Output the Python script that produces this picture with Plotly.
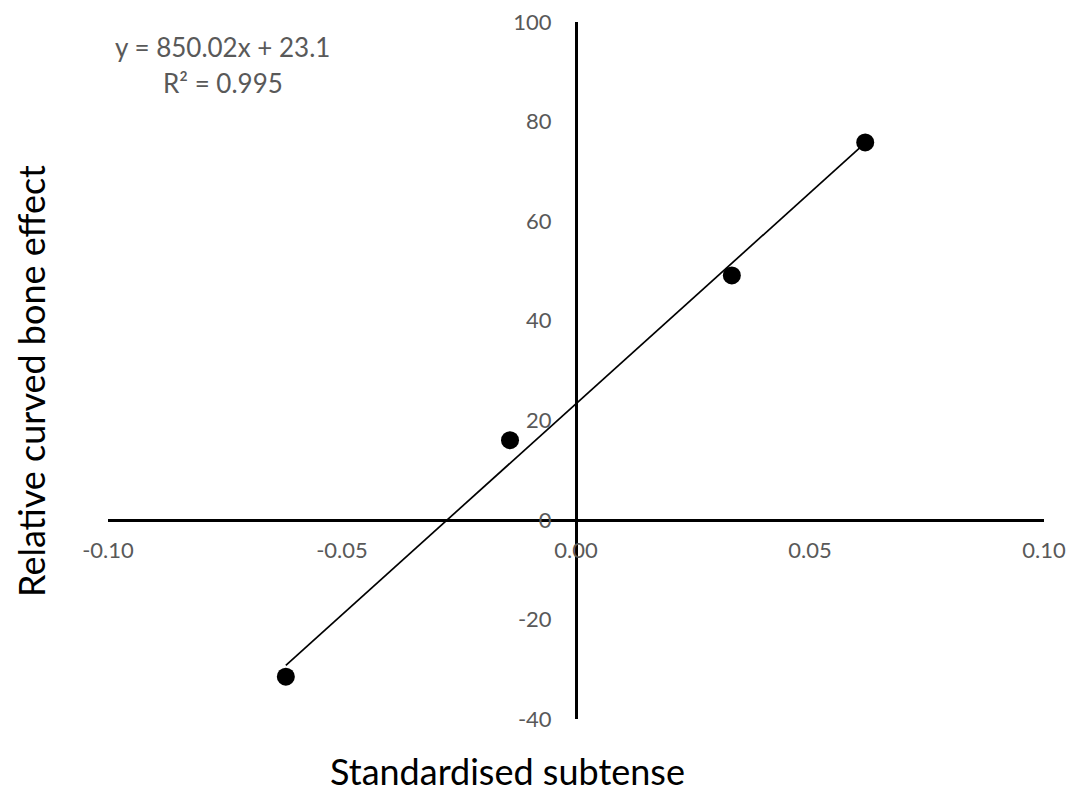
import numpy as np
import plotly.graph_objects as go

# Data
subtense = [-0.0620, -0.0141, 0.0333, 0.0618]
bone_effect = [-31.5, 16.0, 49.1, 75.8]

x_ticks = [-0.10, -0.05, 0.00, 0.05, 0.10]
x_tick_labels = ["-0.10", "-0.05", "0.00", "0.05", "0.10"]
y_ticks = [-40, -20, 0, 20, 40, 60, 80, 100]
y_tick_labels = ["-40", "-20", "0", "20", "40", "60", "80", "100"]

equation_text = "y = 850.02x + 23.1"
r2_text = "R² = 0.995"

FONT = "Lato"
TICK_COLOR = "#595959"

slope, intercept = np.polyfit(subtense, bone_effect, 1)
trend_x = [min(subtense), max(subtense)]
trend_y = [slope * v + intercept for v in trend_x]

fig = go.Figure()
fig.add_trace(go.Scatter(x=trend_x, y=trend_y, mode="lines",
                         line=dict(color="black", width=1.7), showlegend=False,
                         hoverinfo="skip"))
fig.add_trace(go.Scatter(x=subtense, y=bone_effect, mode="markers",
                         marker=dict(color="black", size=18), showlegend=False))

xr = [-0.10, 0.10]
yr = [-40, 100]

# page body has an 8px default margin; plot area spans x 108..1044, y 22..719 on the page
PL, PR, PT, PB = 108, 1044, 22, 719


def px(X):
    return (X - PL) / (PR - PL)


def py(Y):
    return (PB - Y) / (PB - PT)


fig.update_layout(
    width=1075, height=784,
    margin=dict(l=100, r=39, t=14, b=73, autoexpand=False),
    paper_bgcolor="white", plot_bgcolor="white",
    font=dict(family=FONT, color=TICK_COLOR, size=22),
    xaxis=dict(range=xr, tickvals=x_ticks, ticktext=x_tick_labels,
               showgrid=False, zeroline=False, showline=True,
               linecolor="black", linewidth=3, ticks="",
               anchor="free", position=(0 - yr[0]) / (yr[1] - yr[0]),
               ticklabeloverflow="allow", automargin=False,
               ticklabelstandoff=10, tickfont=dict(size=22, color=TICK_COLOR)),
    yaxis=dict(range=yr, tickvals=y_ticks, ticktext=y_tick_labels,
               showgrid=False, zeroline=False, showline=True,
               linecolor="black", linewidth=3, ticks="",
               anchor="free", position=(0 - xr[0]) / (xr[1] - xr[0]),
               ticklabeloverflow="allow", automargin=False,
               ticklabelstandoff=19, tickfont=dict(size=22, color=TICK_COLOR)),
    annotations=[
        dict(text=equation_text, xref="paper", yref="paper",
             x=px(222), y=py(47), xanchor="center", yanchor="middle",
             showarrow=False, font=dict(size=26, color=TICK_COLOR, family=FONT)),
        dict(text=r2_text, xref="paper", yref="paper",
             x=px(223), y=py(83), xanchor="center", yanchor="middle",
             showarrow=False, font=dict(size=26, color=TICK_COLOR, family=FONT)),
        dict(text="Standardised subtense", xref="paper", yref="paper",
             x=px(507), y=py(771), xanchor="center", yanchor="middle",
             showarrow=False, font=dict(size=36, color="black", family=FONT)),
        dict(text="Relative curved bone effect", xref="paper", yref="paper",
             x=px(31), y=py(381), xanchor="center", yanchor="middle",
             textangle=-90, showarrow=False, font=dict(size=36, color="black", family=FONT)),
    ],
)

fig.write_html("out.html")
